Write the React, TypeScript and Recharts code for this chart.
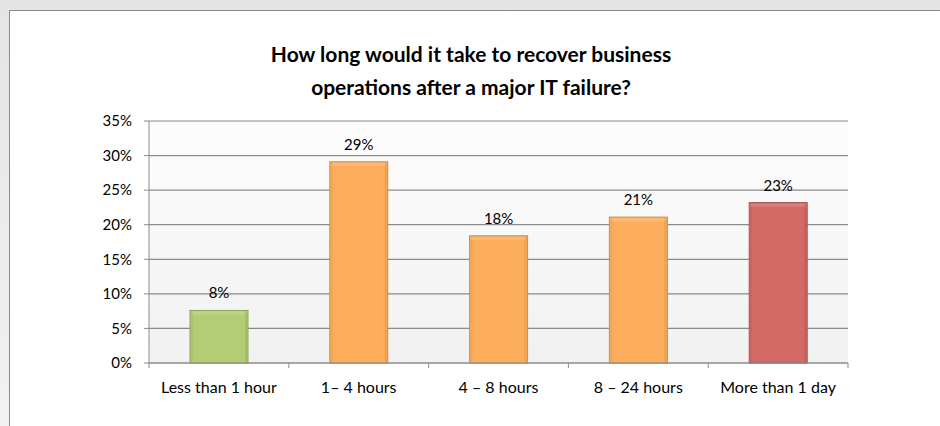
import React from 'react';
import { BarChart, Bar, XAxis, YAxis, CartesianGrid, LabelList } from 'recharts';

const categories = ['Less than 1 hour', '1– 4 hours', '4 – 8 hours', '8 – 24 hours', 'More than 1 day'];
const values = [7.6, 29.1, 18.4, 21.1, 23.2];
const yTicks = [0, 5, 10, 15, 20, 25, 30, 35];
const titleLines = ['How long would it take to recover business', 'operations after a major IT failure?'];

const barColors = [
  { fill: '#b3cd74', stroke: '#8ea45a' },
  { fill: '#fdae5c', stroke: '#cf8c48' },
  { fill: '#fdae5c', stroke: '#cf8c48' },
  { fill: '#fdae5c', stroke: '#cf8c48' },
  { fill: '#d46a66', stroke: '#a9534f' },
];

const data = categories.map((c, i) => ({ category: c, value: values[i] }));

const FONT = 'Lato, "Open Sans", sans-serif';
const PLOT_LEFT = 149;
const PLOT_RIGHT = 848;
const PLOT_TOP = 121;
const PLOT_BOTTOM = 363;
const W = 940;
const H = 426;
const HALF_BAND = (PLOT_RIGHT - PLOT_LEFT) / categories.length / 2;

const BevelBar = (p: any) => {
  const { x, y, width, height, index } = p;
  if (!height || height <= 0) return null;
  const c = barColors[index % barColors.length];
  return (
    <g>
      <rect x={x} y={y} width={width} height={height} fill={c.fill} stroke={c.stroke} strokeWidth={1} />
      <rect x={x + 1} y={y + 1} width={width - 2} height={3} fill="#ffffff" opacity={0.15} />
      <rect x={x + 1} y={y + 1} width={2} height={height - 2} fill="#000000" opacity={0.05} />
      <rect x={x + width - 3} y={y + 1} width={2} height={height - 2} fill="#000000" opacity={0.08} />
    </g>
  );
};

const XTick = (p: any) => {
  const { x, y, payload, index } = p;
  const left = x - HALF_BAND;
  const right = x + HALF_BAND;
  return (
    <g>
      <line x1={left} y1={y - 5} x2={left} y2={y} stroke="#8c8c8c" />
      {index === categories.length - 1 && <line x1={right} y1={y - 5} x2={right} y2={y} stroke="#8c8c8c" />}
      <text x={x} y={y} dy={25} textAnchor="middle" fill="#000" fontSize={16} fontFamily={FONT}>
        {payload.value}
      </text>
    </g>
  );
};

export default function App() {
  return (
    <div style={{ position: 'fixed', left: 0, top: 0, width: W, height: H, overflow: 'hidden', background: 'linear-gradient(#e4e4e4, #f2f2f2)' }}>
      <div style={{ position: 'absolute', left: 9, top: 10, width: W + 40, height: H + 40, border: '1px solid #8a8a8a', background: '#ffffff', boxSizing: 'border-box' }} />
      <div style={{ position: 'absolute', left: 0, top: 37, width: 942, textAlign: 'center', fontFamily: FONT, fontWeight: 700, fontSize: 21, lineHeight: '33px', color: '#000' }}>
        {titleLines.map((t) => (
          <div key={t}>{t}</div>
        ))}
      </div>
      <div style={{ position: 'absolute', left: 0, top: 0 }}>
        <BarChart
          width={W}
          height={H}
          data={data}
          margin={{ top: PLOT_TOP, right: W - PLOT_RIGHT, bottom: H - PLOT_BOTTOM - 30, left: PLOT_LEFT - 60 }}
        >
          <defs>
            <linearGradient id="plotBg" x1="0" y1="0" x2="0" y2="1">
              <stop offset="0%" stopColor="#fdfdfd" />
              <stop offset="100%" stopColor="#f1f1f1" />
            </linearGradient>
          </defs>
          <CartesianGrid vertical={false} stroke="#8a8a8a" strokeWidth={1.2} fill="url(#plotBg)" />
          <XAxis
            dataKey="category"
            height={30}
            tickLine={false}
            tickSize={5}
            tickMargin={0}
            axisLine={{ stroke: '#8c8c8c' }}
            tick={<XTick />}
            interval={0}
          />
          <YAxis
            width={60}
            domain={[0, 35]}
            ticks={yTicks}
            interval={0}
            tickFormatter={(v: number) => `${v}%`}
            axisLine={{ stroke: '#8c8c8c' }}
            tickLine={{ stroke: '#8c8c8c' }}
            tickSize={5}
            tickMargin={12}
            tick={{ fill: '#000', fontSize: 15, fontFamily: FONT }}
          />
          <Bar dataKey="value" barSize={58} isAnimationActive={false} shape={<BevelBar />}>
            <LabelList
              dataKey="value"
              position="top"
              offset={12}
              formatter={(v: any) => `${Math.round(Number(v))}%`}
              fill="#000"
              fontSize={15}
              fontFamily={FONT}
            />
          </Bar>
        </BarChart>
      </div>
    </div>
  );
}
